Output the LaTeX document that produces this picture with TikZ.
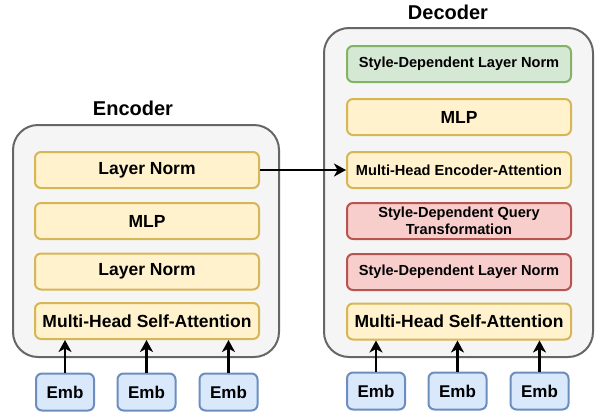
\documentclass[tikz,border=0pt]{standalone}
\usepackage{fontspec}
\setmainfont{Liberation Sans}
\usetikzlibrary{arrows.meta}
\definecolor{ylwF}{HTML}{FFF2CC}\definecolor{ylwD}{HTML}{D6B656}
\definecolor{grnF}{HTML}{D5E8D4}\definecolor{grnD}{HTML}{82B366}
\definecolor{redF}{HTML}{F8CECC}\definecolor{redD}{HTML}{B85450}
\definecolor{bluF}{HTML}{DAE8FC}\definecolor{bluD}{HTML}{6C8EBF}
\definecolor{conF}{HTML}{F5F5F5}\definecolor{conD}{HTML}{666666}
\begin{document}
\begin{tikzpicture}[x=1pt,y=-1pt,
  box/.style={draw, line width=2pt, rounded corners=6pt, minimum width=224pt, minimum height=36pt, inner sep=0pt, align=center, font=\bfseries\fontsize{17.5}{19}\selectfont},
  smallbox/.style={box, font=\bfseries\fontsize{14.6}{17}\selectfont},
  ylw/.style={fill=ylwF, draw=ylwD},
  grn/.style={fill=grnF, draw=grnD},
  red/.style={fill=redF, draw=redD},
  emb/.style={draw=bluD, fill=bluF, line width=2pt, rounded corners=6pt, minimum width=58pt, minimum height=37pt, inner sep=0pt, font=\bfseries\fontsize{17}{19}\selectfont},
  cont/.style={draw=conD, fill=conF, line width=2pt, rounded corners=25pt, inner sep=0pt},
  title/.style={font=\bfseries\fontsize{20}{22}\selectfont},
  arr/.style={line width=2.5pt, -{Stealth[length=12pt, width=13pt, inset=3.5pt]}}]
\useasboundingbox (0,0) rectangle (602,418);
% containers
\node[cont, minimum width=266pt, minimum height=232pt] (enc) at (146,241) {};
\node[cont, minimum width=269pt, minimum height=329pt] (dec) at (458.5,192.5) {};
\node[title] (enctitle) at (133,108) {Encoder};
\node[title] (dectitle) at (448,12) {Decoder};
% encoder
\node[box, ylw] (eln1) at (147,170) {Layer Norm};
\node[box, ylw] (emlp) at (147,221) {MLP};
\node[box, ylw] (eln2) at (147,271.5) {Layer Norm};
\node[box, ylw] (emhsa) at (147,321) {Multi-Head Self-Attention};
% decoder
\node[smallbox, grn] (dsdln1) at (459,64) {Style-Dependent Layer Norm};
\node[box, ylw] (dmlp) at (459,117) {MLP};
\node[smallbox, ylw] (dmhea) at (459,170) {Multi-Head Encoder-Attention};
\node[smallbox, red] (dsdqt) at (459,221) {Style-Dependent Query\\[-0.5pt]Transformation};
\node[smallbox, red] (dsdln2) at (459,272) {Style-Dependent Layer Norm};
\node[box, ylw] (dmhsa) at (459,321.5) {Multi-Head Self-Attention};
% embeddings
\node[emb] (ee1) at (65,392) {Emb};
\node[emb] (ee2) at (146.5,392) {Emb};
\node[emb] (ee3) at (228.5,392) {Emb};
\node[emb] (de1) at (376,391) {Emb};
\node[emb] (de2) at (457.5,391) {Emb};
\node[emb] (de3) at (539.5,391) {Emb};
% arrows
\draw[arr] (ee1.north) -- (ee1.north |- emhsa.south);
\draw[arr] (ee2.north) -- (ee2.north |- emhsa.south);
\draw[arr] (ee3.north) -- (ee3.north |- emhsa.south);
\draw[arr] (de1.north) -- (de1.north |- dmhsa.south);
\draw[arr] (de2.north) -- (de2.north |- dmhsa.south);
\draw[arr] (de3.north) -- (de3.north |- dmhsa.south);
\draw[arr] (eln1.east) -- (dmhea.west);
\end{tikzpicture}
\end{document}
